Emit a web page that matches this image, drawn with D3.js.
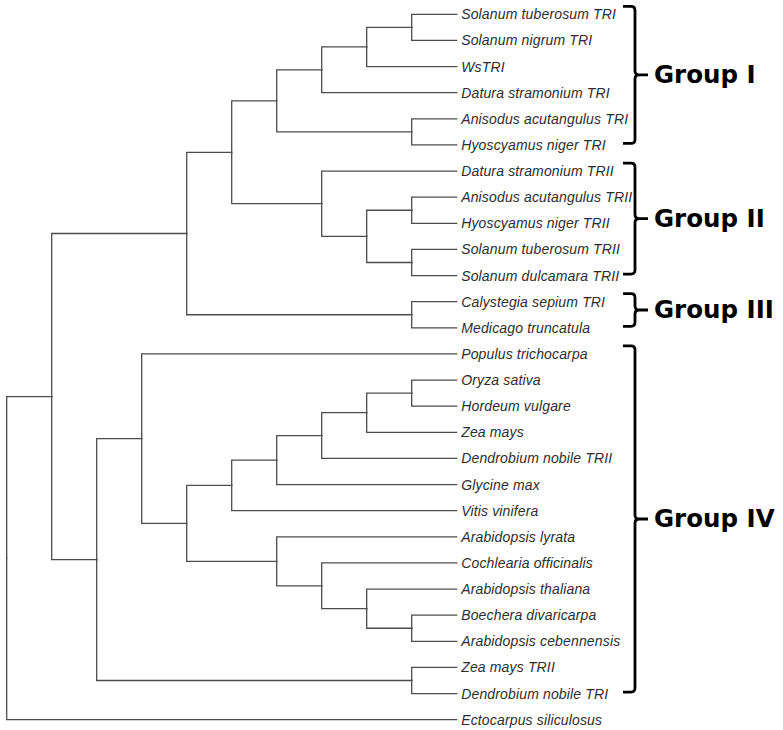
<!DOCTYPE html>
<html>
<head>
<meta charset="utf-8">
<script src="https://cdn.jsdelivr.net/npm/d3@7"></script>
<style>
  html, body { margin: 0; padding: 0; background: #fff; }
  svg { display: block; }
</style>
</head>
<body>
<svg id="chart" width="783" height="730"></svg>
<script>
// ---- data ----
const taxa = [
  "Solanum tuberosum TRI", "Solanum nigrum TRI", "WsTRI", "Datura stramonium TRI",
  "Anisodus acutangulus TRI", "Hyoscyamus niger TRI",
  "Datura stramonium TRII", "Anisodus acutangulus TRII", "Hyoscyamus niger TRII",
  "Solanum tuberosum TRII", "Solanum dulcamara TRII",
  "Calystegia sepium TRI", "Medicago truncatula",
  "Populus trichocarpa", "Oryza sativa", "Hordeum vulgare", "Zea mays",
  "Dendrobium nobile TRII", "Glycine max", "Vitis vinifera", "Arabidopsis lyrata",
  "Cochlearia officinalis", "Arabidopsis thaliana", "Boechera divaricarpa",
  "Arabidopsis cebennensis", "Zea mays TRII", "Dendrobium nobile TRI",
  "Ectocarpus siliculosus"
];

// topology: nested pairs of taxon indices
const groupI   = [[[[0, 1], 2], 3], [4, 5]];
const groupII  = [6, [[7, 8], [9, 10]]];
const groupIII = [11, 12];
const groupIV  = [[13, [[[[[[14, 15], 16], 17], 18], 19], [20, [21, [22, [23, 24]]]]]], [25, 26]];
const topology = [[[[groupI, groupII], groupIII], groupIV], 27];

const groupNames = ["Group I", "Group II", "Group III", "Group IV"];
const groupFirst = [0, 6, 11, 13];
const groupLast  = [5, 10, 12, 26];

// ---- layout ----
const svg = d3.select("#chart");

function toNode(t) {
  if (Array.isArray(t)) return { children: t.map(toNode) };
  return { name: taxa[t], idx: t };
}

const root = d3.hierarchy(toNode(topology));
d3.cluster().nodeSize([1, 1]).separation(() => 1)(root);

const leaves = root.leaves();
const maxDepth = d3.max(root.descendants(), d => d.y);

const xScale = d3.scaleLinear().domain([0, maxDepth]).range([6.7, 456.7]);
const yScale = d3.scaleLinear()
  .domain([d3.min(leaves, d => d.x), d3.max(leaves, d => d.x)])
  .range([14.3, 719.7]);

// links (elbow)
svg.append("g")
  .attr("fill", "none")
  .attr("stroke", "#4d4d4d")
  .attr("stroke-width", 1.3)
  .attr("stroke-linecap", "square")
  .selectAll("path")
  .data(root.links())
  .join("path")
  .attr("d", l => `M${xScale(l.source.y)},${yScale(l.source.x)}V${yScale(l.target.x)}H${xScale(l.target.y)}`);

// leaf labels
svg.append("g")
  .selectAll("text")
  .data(leaves)
  .join("text")
  .attr("x", d => xScale(d.y) + 4.5)
  .attr("y", d => yScale(d.x))
  .attr("dy", "0.36em")
  .attr("font-family", "'Liberation Sans', Arial, sans-serif")
  .attr("font-style", "italic")
  .attr("font-size", 14)
  .attr("letter-spacing", 0.15)
  .attr("fill", "#2e2e2e")
  .text(d => d.data.name);

// group braces
const leafY = i => yScale(leaves.find(l => l.data.idx === i).x);
const xl = 623, xv = 635, xt = 648, r = 4;

const groups = groupNames.map((name, i) => {
  const top = leafY(groupFirst[i]) - 8;
  const bottom = leafY(groupLast[i]) - 1.5;
  return { name, top, bottom, mid: (top + bottom) / 2 };
});

const bg = svg.append("g");
bg.selectAll("path")
  .data(groups)
  .join("path")
  .attr("fill", "none")
  .attr("stroke", "#000")
  .attr("stroke-width", 2.8)
  .attr("d", g =>
    `M${xl},${g.top}H${xv - r}Q${xv},${g.top} ${xv},${g.top + r}` +
    `V${g.mid - r}Q${xv},${g.mid} ${xv + r},${g.mid}H${xt}` +
    `M${xv + r},${g.mid}Q${xv},${g.mid} ${xv},${g.mid + r}` +
    `V${g.bottom - r}Q${xv},${g.bottom} ${xv - r},${g.bottom}H${xl}`);

bg.selectAll("text")
  .data(groups)
  .join("text")
  .attr("x", 654)
  .attr("y", g => g.mid)
  .attr("dy", "0.34em")
  .attr("font-family", "'DejaVu Sans', Verdana, sans-serif")
  .attr("font-weight", "bold")
  .attr("font-size", 24.5)
  .attr("fill", "#000")
  .text(g => g.name);
</script>
</body>
</html>
